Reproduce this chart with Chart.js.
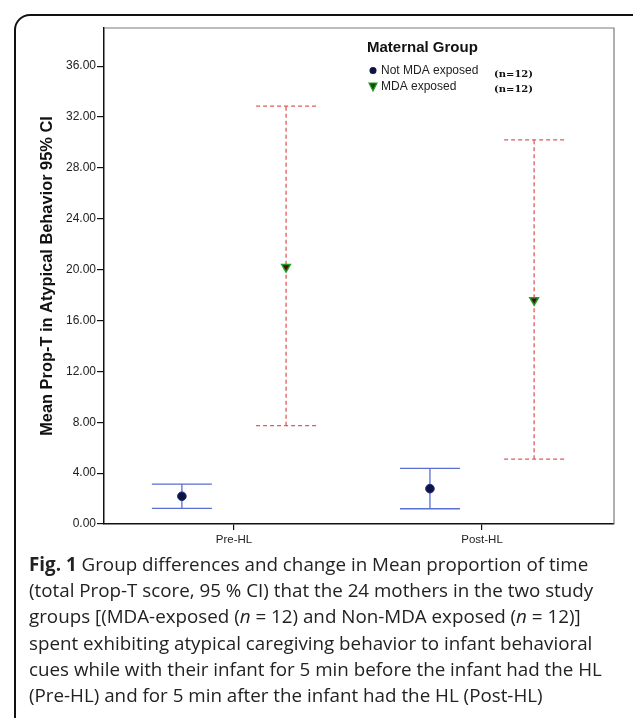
<!DOCTYPE html>
<html lang="en">
<head>
  <meta charset="UTF-8" />
  <title>Maternal Group Prop-T</title>
  <script src="https://cdn.jsdelivr.net/npm/chart.js"></script>
  <style>
    body { margin: 0; background: #fff; width: 633px; height: 718px; overflow: hidden; position: relative; font-family: 'Liberation Sans', Arial, sans-serif; }
    .frame { position: absolute; left: 14px; top: 14px; width: 640px; height: 730px; border: 2px solid #111; border-radius: 16px; box-sizing: border-box; }
    .wrap { position: absolute; left: 0; top: 0; width: 633px; height: 560px; }
    .caption { position: absolute; left: 29px; top: 551px; width: 600px; font-family: 'Open Sans', sans-serif; font-size: 18.8px; line-height: 26.2px; color: #222; white-space: nowrap; }
    .caption b { font-weight: 700; }
  </style>
</head>
<body>
  <div class="frame"></div>
  <div class="wrap"><canvas id="chart" width="633" height="560"></canvas></div>
  <div class="caption">
    <b>Fig. 1</b> Group differences and change in Mean proportion of time<br>
    (total Prop-T score, 95 % CI) that the 24 mothers in the two study<br>
    groups [(MDA-exposed (<i>n</i> = 12) and Non-MDA exposed (<i>n</i> = 12)]<br>
    spent exhibiting atypical caregiving behavior to infant behavioral<br>
    cues while with their infant for 5 min before the infant had the HL<br>
    (Pre-HL) and for 5 min after the infant had the HL (Post-HL)
  </div>
  <script>
    const categories = ['Pre-HL', 'Post-HL'];
    const groups = ['Not MDA exposed', 'MDA exposed'];
    const groupN = ['(n=12)', '(n=12)'];
    const yTicks = [0, 4, 8, 12, 16, 20, 24, 28, 32, 36];

    // means and 95% CI per time point
    const notMdaMean = [2.18, 2.78];
    const notMdaLow = [1.23, 1.2];
    const notMdaHigh = [3.14, 4.38];
    const mdaMean = [20.2, 17.6];
    const mdaLow = [7.73, 5.1];
    const mdaHigh = [32.86, 30.2];

    const shift = 0.21;

    function pts(means, lows, highs, dx) {
      return means.map((m, i) => ({ x: i + dx, y: m, lo: lows[i], hi: highs[i] }));
    }

    const errorBars = {
      id: 'errorBars',
      beforeDatasetsDraw(chart) {
        const ctx = chart.ctx;
        const xs = chart.scales.x, ys = chart.scales.y;
        chart.data.datasets.forEach(ds => {
          ctx.save();
          ctx.strokeStyle = ds.barColor;
          ctx.lineWidth = 1.3;
          ctx.setLineDash(ds.barDash);
          ds.data.forEach(p => {
            const x = xs.getPixelForValue(p.x);
            const yl = ys.getPixelForValue(p.lo);
            const yh = ys.getPixelForValue(p.hi);
            ctx.beginPath();
            ctx.moveTo(x, yl); ctx.lineTo(x, yh);
            ctx.moveTo(x - 30, yh); ctx.lineTo(x + 30, yh);
            ctx.moveTo(x - 30, yl); ctx.lineTo(x + 30, yl);
            ctx.stroke();
          });
          ctx.restore();
        });
      },
      afterDraw(chart) {
        const ctx = chart.ctx;
        const a = chart.chartArea;
        ctx.save();
        // frame top and right
        ctx.strokeStyle = '#7a7a7a';
        ctx.lineWidth = 1.2;
        ctx.beginPath();
        ctx.moveTo(a.left, a.top); ctx.lineTo(a.right, a.top); ctx.lineTo(a.right, a.bottom);
        ctx.stroke();
        // legend
        ctx.fillStyle = '#111';
        ctx.font = 'bold 15px "Liberation Sans", Arial, sans-serif';
        ctx.textBaseline = 'middle';
        ctx.fillText('Maternal Group', 367, 48);
        ctx.font = '12px "Liberation Sans", Arial, sans-serif';
        ctx.fillStyle = '#222';
        ctx.fillText(groups[0], 381, 71);
        ctx.fillText(groups[1], 381, 87);
        ctx.font = 'bold 10px "DejaVu Serif", serif';
        ctx.fillStyle = '#111';
        ctx.fillText(groupN[0], 494, 74);
        ctx.fillText(groupN[1], 494, 89);
        // legend symbols
        ctx.fillStyle = '#0d1440';
        ctx.beginPath(); ctx.arc(373, 70.5, 3.5, 0, Math.PI * 2); ctx.fill();
        ctx.fillStyle = '#1a4a10';
        ctx.strokeStyle = '#22a022';
        ctx.lineWidth = 1.2;
        ctx.beginPath(); ctx.moveTo(369, 83); ctx.lineTo(377, 83); ctx.lineTo(373, 91); ctx.closePath();
        ctx.fill(); ctx.stroke();
        ctx.restore();
      }
    };

    new Chart(document.getElementById('chart').getContext('2d'), {
      type: 'scatter',
      data: {
        datasets: [{
          label: groups[0],
          data: pts(notMdaMean, notMdaLow, notMdaHigh, -shift),
          pointStyle: 'circle',
          pointRadius: 4.3,
          backgroundColor: '#0d1440',
          borderColor: '#1a2a80',
          borderWidth: 1,
          barColor: '#5a6fd2',
          barDash: []
        }, {
          label: groups[1],
          data: pts(mdaMean, mdaLow, mdaHigh, shift),
          pointStyle: 'triangle',
          rotation: 180,
          pointRadius: 5,
          backgroundColor: '#4a0c0c',
          borderColor: '#22a022',
          borderWidth: 1.5,
          barColor: '#e05a5a',
          barDash: [4, 3]
        }]
      },
      options: {
        responsive: false,
        animation: false,
        events: [],
        layout: { padding: { left: 0, top: 28, right: 19, bottom: 0 } },
        plugins: { legend: { display: false }, tooltip: { enabled: false } },
        scales: {
          x: {
            type: 'linear',
            min: -0.524,
            max: 1.532,
            afterBuildTicks: s => { s.ticks = categories.map((c, i) => ({ value: i })); },
            afterFit: s => { s.height = 36; },
            ticks: {
              callback: v => categories[v],
              color: '#222',
              padding: 3,
              font: { family: '"Liberation Sans", Arial, sans-serif', size: 11.5 }
            },
            grid: { drawOnChartArea: false, drawTicks: true, tickLength: 6, color: '#111', lineWidth: 1.2 },
            border: { color: '#111', width: 1.5 }
          },
          y: {
            min: 0,
            max: 39,
            afterBuildTicks: s => { s.ticks = yTicks.map(v => ({ value: v })); },
            afterFit: s => { s.width = 104; },
            ticks: {
              callback: v => v.toFixed(2),
              color: '#222',
              padding: 1,
              font: { family: '"Liberation Sans", Arial, sans-serif', size: 12 }
            },
            grid: { drawOnChartArea: false, drawTicks: true, tickLength: 7, color: '#111', lineWidth: 1.2 },
            border: { color: '#111', width: 1.5 },
            title: {
              display: true,
              text: 'Mean Prop-T in Atypical Behavior 95% CI',
              color: '#111',
              padding: { top: 38, bottom: 0 },
              font: { family: '"Liberation Sans", Arial, sans-serif', size: 16.4, weight: 'bold' }
            }
          }
        }
      },
      plugins: [errorBars]
    });
  </script>
</body>
</html>
